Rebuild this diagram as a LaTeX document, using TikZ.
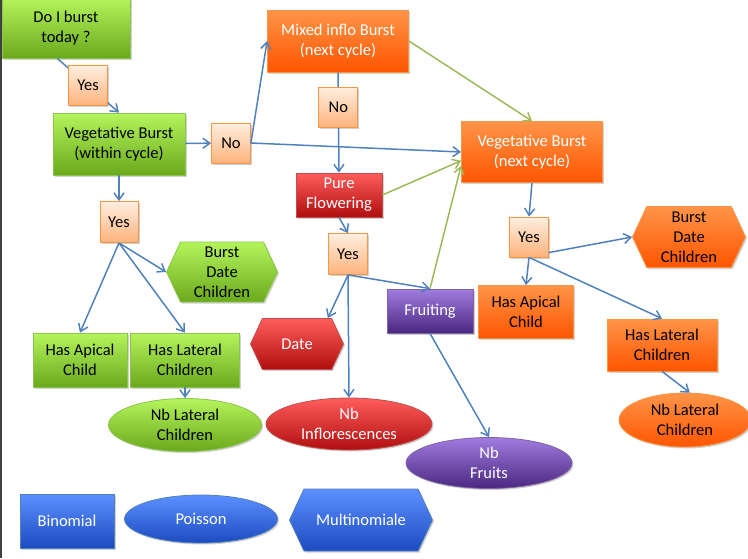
\documentclass[tikz,border=0pt]{standalone}
\usepackage{fontspec}
\setmainfont{Carlito}
\usepackage{tikz}
\usepackage{xcolor}
\usetikzlibrary{arrows.meta,shapes.geometric,shapes.symbols,shadows}
\definecolor{greenhi}{HTML}{B4F45C}
\definecolor{greenlo}{HTML}{6AA91C}
\definecolor{greenline}{HTML}{8DC450}
\definecolor{orangehi}{HTML}{FF9448}
\definecolor{orangelo}{HTML}{FF5500}
\definecolor{orangeline}{HTML}{F79646}
\definecolor{peachhi}{HTML}{FFEEDF}
\definecolor{peachlo}{HTML}{FFB37C}
\definecolor{redhi}{HTML}{FF5C5C}
\definecolor{redlo}{HTML}{B00E0E}
\definecolor{redline}{HTML}{C0504D}
\definecolor{purplehi}{HTML}{A07CE0}
\definecolor{purplelo}{HTML}{4A2880}
\definecolor{purpleline}{HTML}{8064A2}
\definecolor{bluehi}{HTML}{5C90FF}
\definecolor{bluelo}{HTML}{1C4BC0}
\definecolor{linkblue}{HTML}{4F81BD}
\definecolor{linkgreen}{HTML}{9BBB59}

\begin{document}
\begin{tikzpicture}[x=1pt,y=-1pt,>={Straight Barb[length=7pt,width=10pt]},
    every node/.style={font=\fontsize{16.5}{20}\selectfont,inner sep=0pt,align=center},
    boxshadow/.style={drop shadow={shadow xshift=1.5pt,shadow yshift=-1.5pt,opacity=.3,fill=black!60}},
    greenfill/.style={top color=greenhi,bottom color=greenlo,draw=greenline,line width=.8pt,text=black,boxshadow},
    orangefill/.style={top color=orangehi,bottom color=orangelo,draw=orangeline,line width=.8pt,text=black,boxshadow},
    peachfill/.style={top color=peachhi,bottom color=peachlo,draw=orangeline,line width=.8pt,text=black,boxshadow},
    redfill/.style={top color=redhi,bottom color=redlo,draw=redline,line width=.8pt,text=white,boxshadow},
    purplefill/.style={top color=purplehi,bottom color=purplelo,draw=purpleline,line width=.8pt,text=white,boxshadow},
    bluefill/.style={top color=bluehi,bottom color=bluelo,draw=linkblue,line width=.8pt,text=white,boxshadow},
    hexa/.style={signal,signal to=west and east,signal from=nowhere,signal pointer angle=130},
    answer/.style={peachfill,rectangle,minimum width=39pt,minimum height=40pt},
    link/.style={->,linkblue,line width=1.5pt},
    feedback/.style={->,linkgreen,line width=1.5pt}]
    \useasboundingbox (0,0) rectangle (748,558);
    \draw[black!75,line width=1.5pt] (0.75,0) -- (0.75,558);

    % within the current cycle
    \node[greenfill,minimum width=128pt,minimum height=60pt] (burst) at (66,28) {Do I burst\\today ?};
    \node[greenfill,minimum width=132pt,minimum height=62pt] (vegwithin) at (119,144) {Vegetative Burst\\(within cycle)};
    \node[answer] (noleft) at (231,143) {No};
    \node[answer,minimum width=38pt,minimum height=41pt] (yesleft) at (119,222) {Yes};
    \node[greenfill,hexa,minimum width=111pt,minimum height=60pt] (datechildL) at (222,272) {Burst\\Date\\Children};
    \node[greenfill,minimum width=94pt,minimum height=54pt] (apicalL) at (80,360) {Has Apical\\Child};
    \node[greenfill,minimum width=109pt,minimum height=54pt] (lateralL) at (185,360) {Has Lateral\\Children};
    \node[greenfill,ellipse,minimum width=153pt,minimum height=53pt] (nblateralL) at (185,425) {Nb Lateral\\Children};

    % flowering
    \node[orangefill,text=white,minimum width=141pt,minimum height=62pt] (mixed) at (338,41) {Mixed inflo Burst\\(next cycle)};
    \node[redfill,minimum width=86pt,minimum height=44pt] (pure) at (339,195) {Pure\\Flowering};
    \node[answer,minimum height=41pt] (yesmid) at (348,254) {Yes};
    \node[redfill,hexa,minimum width=93pt,minimum height=51pt] (date) at (297,344) {Date};
    \node[purplefill,minimum width=86pt,minimum height=44pt] (fruiting) at (430,311) {Fruiting};
    \node[redfill,ellipse,minimum width=166pt,minimum height=52pt] (nbinflo) at (349,424) {Nb\\Inflorescences};
    \node[purplefill,ellipse,minimum width=166pt,minimum height=51pt] (nbfruits) at (489,463) {Nb\\Fruits};

    % next cycle
    \node[orangefill,text=white,minimum width=141pt,minimum height=61pt] (vegnext) at (532,152) {Vegetative Burst\\(next cycle)};
    \node[answer] (yesright) at (529,237) {Yes};
    \node[orangefill,hexa,minimum width=113pt,minimum height=61pt] (datechildR) at (689,237) {Burst\\Date\\Children};
    \node[orangefill,minimum width=95pt,minimum height=53pt] (apicalR) at (526,312) {Has Apical\\Child};
    \node[orangefill,minimum width=110pt,minimum height=52pt] (lateralR) at (662,345) {Has Lateral\\Children};
    \node[orangefill,ellipse,minimum width=132pt,minimum height=54pt] (nblateralR) at (685,420) {Nb Lateral\\Children};

    % legend
    \node[bluefill,minimum width=94pt,minimum height=54pt] (binomial) at (67,521) {Binomial};
    \node[bluefill,ellipse,minimum width=153pt,minimum height=48pt] (poisson) at (201,519) {Poisson};
    \node[bluefill,hexa,minimum width=143pt,minimum height=62pt] (multi) at (361,520) {Multinomiale};

    \draw[link] (burst.254) -- node[answer,midway] (yestop) {Yes} (vegwithin.north);
    \draw[link] (vegwithin) -- (noleft);
    \draw[link] (noleft.east) -- (mixed.west);
    \draw[link] (noleft.east) -- (vegnext.west);
    \draw[link] (vegwithin.south) -- (yesleft.north);
    \draw[link] (yesleft.south) -- (datechildL.180);
    \draw[link] (yesleft.south) -- (apicalL.north);
    \draw[link] (yesleft.south) -- (lateralL.north);
    \draw[link] (lateralL.south) -- (nblateralL.north);
    \draw[link] (mixed.south) -- node[answer,pos=.35] (nomid) {No} (pure.north);
    \draw[feedback] (mixed.east) -- (vegnext.north);
    \draw[feedback] (pure.east) -- (vegnext.187);
    \draw[feedback] (fruiting.north) -- (vegnext.191);
    \draw[link] (pure.south) -- (yesmid.north);
    \draw[link] (yesmid.south) -- (date.40);
    \draw[link] (yesmid.south) -- (nbinflo.north);
    \draw[link] (yesmid.south) -- (fruiting.north);
    \draw[link] (fruiting.south) -- (nbfruits.north);
    \draw[link] (vegnext.south) -- (yesright.north);
    \draw[link] (yesright.-38) -- (datechildR.180);
    \draw[link] (yesright.south) -- (apicalR.north);
    \draw[link] (yesright.south) -- (lateralR.north);
    \draw[link] (lateralR.south) -- (nblateralR.80);
\end{tikzpicture}
\end{document}
